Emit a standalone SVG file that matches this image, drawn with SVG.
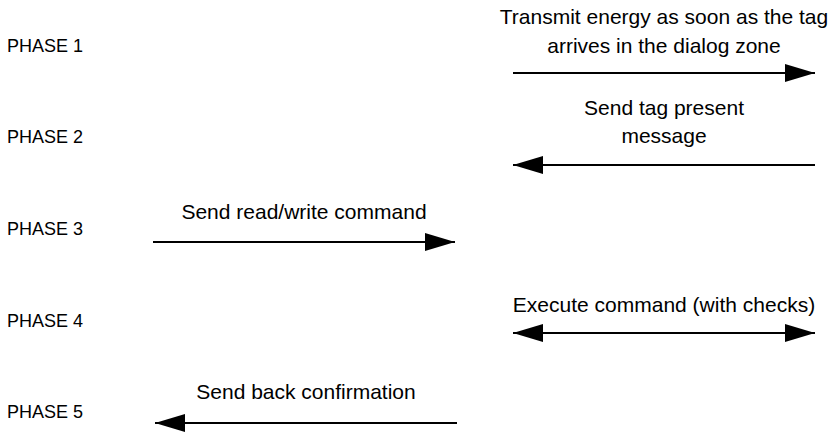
<svg xmlns="http://www.w3.org/2000/svg" width="832" height="433" viewBox="0 0 832 433">
<defs>
<style>
.lbl{font-family:"Liberation Sans",Arial,sans-serif;font-size:18px;fill:#000}
.msg{font-family:"Liberation Sans",Arial,sans-serif;font-size:21px;fill:#000;text-anchor:middle}
.ln{stroke:#000;stroke-width:2.2;fill:none}
</style>
<marker id="ah" markerUnits="userSpaceOnUse" markerWidth="32" markerHeight="18" refX="30" refY="9" orient="auto-start-reverse" viewBox="0 0 32 18">
<polygon points="0,0 30,9 0,18" fill="#000"/>
</marker>
</defs>
<g id="phase1"><text class="lbl" x="7" y="52">PHASE 1</text></g>
<g id="phase2"><text class="lbl" x="7" y="143">PHASE 2</text></g>
<g id="phase3"><text class="lbl" x="7" y="235">PHASE 3</text></g>
<g id="phase4"><text class="lbl" x="7" y="327">PHASE 4</text></g>
<g id="phase5"><text class="lbl" x="7" y="418">PHASE 5</text></g>
<g id="labels">
<text class="msg" x="664" y="24">Transmit energy as soon as the tag</text>
<text class="msg" x="664" y="53">arrives in the dialog zone</text>
<text class="msg" x="664" y="115">Send tag present</text>
<text class="msg" x="664" y="143">message</text>
<text class="msg" x="304" y="219">Send read/write command</text>
<text class="msg" x="664" y="312">Execute command (with checks)</text>
<text class="msg" x="306" y="399">Send back confirmation</text>
</g>
<g id="connectors">
<line class="ln" x1="513" y1="73" x2="815" y2="73" marker-end="url(#ah)"/>
<line class="ln" x1="815" y1="165" x2="513" y2="165" marker-end="url(#ah)"/>
<line class="ln" x1="153" y1="242" x2="455" y2="242" marker-end="url(#ah)"/>
<line class="ln" x1="513" y1="333" x2="815" y2="333" marker-start="url(#ah)" marker-end="url(#ah)"/>
<line class="ln" x1="457" y1="423" x2="155" y2="423" marker-end="url(#ah)"/>
</g>
</svg>
